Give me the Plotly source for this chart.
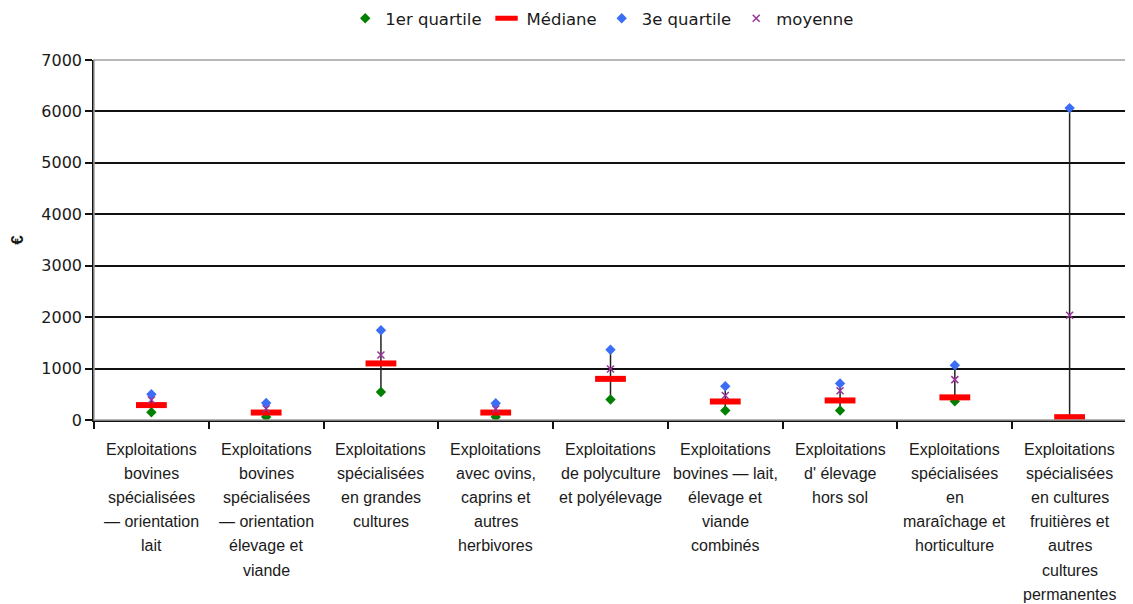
import plotly.graph_objects as go

# ---- data ----
categories = [
    "Exploitations bovines spécialisées — orientation lait",
    "Exploitations bovines spécialisées — orientation élevage et viande",
    "Exploitations spécialisées en grandes cultures",
    "Exploitations avec ovins, caprins et autres herbivores",
    "Exploitations de polyculture et polyélevage",
    "Exploitations bovines — lait, élevage et viande combinés",
    "Exploitations d' élevage hors sol",
    "Exploitations spécialisées en maraîchage et horticulture",
    "Exploitations spécialisées en cultures fruitières et autres cultures permanentes",
]
tick_labels = [
    ["Exploitations", "bovines", "spécialisées", "— orientation", "lait"],
    ["Exploitations", "bovines", "spécialisées", "— orientation", "élevage et", "viande"],
    ["Exploitations", "spécialisées", "en grandes", "cultures"],
    ["Exploitations", "avec ovins,", "caprins et", "autres", "herbivores"],
    ["Exploitations", "de polyculture", "et polyélevage"],
    ["Exploitations", "bovines — lait,", "élevage et", "viande", "combinés"],
    ["Exploitations", "d' élevage", "hors sol"],
    ["Exploitations", "spécialisées", "en", "maraîchage et", "horticulture"],
    ["Exploitations", "spécialisées", "en cultures", "fruitières et", "autres", "cultures", "permanentes"],
]
q1 = [150, 60, 545, 60, 400, 185, 185, 365, 10]
median = [290, 145, 1100, 145, 800, 360, 380, 440, 55]
q3 = [500, 330, 1745, 325, 1365, 655, 710, 1065, 6065]
mean = [390, 220, 1265, 215, 990, 475, 570, 785, 2035]

y_ticks = [0, 1000, 2000, 3000, 4000, 5000, 6000, 7000]

FONT = "Liberation Sans, Arial, sans-serif"
WIDE = "DejaVu Sans, Liberation Sans, sans-serif"
TXT = "#1a1a1a"

fig = go.Figure()

# vertical range lines Q1 -> Q3
vx, vy = [], []
for c, a, b in zip(categories, q1, q3):
    vx += [c, c, None]
    vy += [a, b, None]
fig.add_trace(go.Scatter(x=vx, y=vy, mode="lines", line=dict(color="#222222", width=1.5),
                         showlegend=False, hoverinfo="skip"))

fig.add_trace(go.Scatter(x=categories, y=q1, mode="markers", name="1er quartile",
                         marker=dict(symbol="diamond", size=8, color="#008000")))
fig.add_trace(go.Scatter(x=categories, y=median, mode="markers", name="Médiane",
                         marker=dict(symbol="line-ew", size=22, color="#ff0000",
                                     line=dict(color="#ff0000", width=6))))
fig.add_trace(go.Scatter(x=categories, y=q3, mode="markers", name="3e quartile",
                         marker=dict(symbol="diamond", size=8, color="#3b6ef5")))
fig.add_trace(go.Scatter(x=categories, y=mean, mode="markers", name="moyenne",
                         marker=dict(symbol="x-thin", size=7, color="#993399",
                                     line=dict(color="#993399", width=1.5))))

# category labels, one annotation per line
for c, lines in zip(categories, tick_labels):
    for i, t in enumerate(lines):
        fig.add_annotation(x=c, xref="x", y=0, yref="paper", text=t, showarrow=False,
                           yanchor="middle", xanchor="center", yshift=-29 - 24.2 * i,
                           font=dict(family=FONT, size=16, color=TXT))

fig.add_shape(type="rect", xref="paper", yref="paper", x0=0, x1=1, y0=0, y1=1,
              line=dict(color="#a0a0a0", width=1.5), layer="above")

# page body has an 8px margin, so the figure is sized/positioned to compensate
fig.update_layout(
    width=1125, height=596,
    margin=dict(l=86, r=6, t=52, b=184, autoexpand=False),
    paper_bgcolor="white", plot_bgcolor="white",
    font=dict(family=FONT, size=16, color=TXT),
    showlegend=True,
    legend=dict(orientation="h", xref="paper", yref="paper",
                x=0.492, xanchor="center", y=1.164, yanchor="top",
                font=dict(family=WIDE, size=16.5, color=TXT),
                itemwidth=30, tracegroupgap=0),
    xaxis=dict(type="category", showticklabels=False, showgrid=False,
               showline=True, linecolor="#111111", linewidth=1.5,
               ticks="outside", ticklen=7, tickcolor="#111111", tickwidth=1.5,
               tickson="boundaries", range=[-0.5, len(categories) - 0.5], zeroline=False,
               automargin=False),
    yaxis=dict(range=[0, 7000], tickvals=y_ticks, showgrid=True, gridcolor="#111111",
               gridwidth=1.5, showline=True, linecolor="#111111", linewidth=1.5,
               ticks="outside", ticklen=7, tickcolor="#111111", tickwidth=1.5,
               zeroline=False, automargin=False,
               tickfont=dict(family=WIDE, size=16, color=TXT),
               title=dict(text="<b>€</b>", standoff=18,
                          font=dict(family=FONT, size=17, color=TXT))),
)

fig.write_html("out.html")
